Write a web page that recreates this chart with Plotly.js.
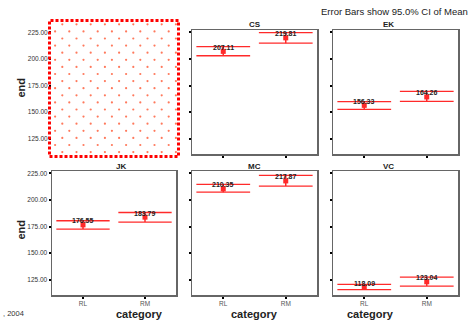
<!DOCTYPE html>
<html><head><meta charset="utf-8">
<script src="https://cdn.plot.ly/plotly-3.0.1.min.js"></script>
<style>html,body{margin:0;padding:0;background:#fff}#chart{width:475px;height:322px}</style>
</head><body><div id="chart"></div>
<script>
// ---- data ----
const groups = ['CS', 'EK', 'JK', 'MC', 'VC'];
const categories = ['RL', 'RM'];
const meanRL  = [207.11, 156.33, 176.55, 210.35, 118.09];
const meanRM  = [219.81, 164.26, 183.79, 217.87, 123.04];
const upperRL = [211.6, 159.9, 180.4, 214.7, 120.6];
const lowerRL = [203.0, 152.5, 172.6, 207.3, 115.6];
const upperRM = [224.8, 169.5, 188.2, 223.0, 127.5];
const lowerRM = [214.8, 160.1, 179.2, 213.0, 119.0];
const yTicks = [125, 150, 175, 200, 225];
const yTickText = ['125.00', '150.00', '175.00', '200.00', '225.00'];

// ---- layout helpers ----
const W = 475, H = 322;
const px = x => x / W;
const py = y => 1 - y / H;
const cols = [[52, 176], [192, 317], [333, 458]];
const rows = [[30, 154], [171, 295]];
const FONT = 'Liberation Sans, Arial, sans-serif';
const RED = '#ff2a2a';
const yRange = [110.6, 227.2];
const halfW = 0.43;

const slots = [[0, 0], [0, 1], [0, 2], [1, 0], [1, 1], [1, 2]];

const layout = {
  width: W, height: H,
  margin: {l: 0, r: 0, t: 0, b: 0},
  paper_bgcolor: '#fff', plot_bgcolor: '#fff',
  showlegend: false,
  font: {family: FONT, color: '#222'},
  annotations: [], shapes: [], images: []
};

slots.forEach((s, i) => {
  const [r, c] = s;
  const n = i === 0 ? '' : String(i + 1);
  const empty = i === 0;
  layout['xaxis' + n] = {
    domain: [px(cols[c][0]), px(cols[c][1])],
    anchor: 'y' + n,
    range: [-0.5, 1.5],
    tickvals: [0, 1], ticktext: categories,
    ticks: empty ? '' : 'outside', ticklen: 2, tickwidth: 2, tickcolor: '#000',
    showticklabels: r === 1,
    tickfont: {family: FONT, size: 6.5, color: '#555'},
    showgrid: false, zeroline: false,
    showline: !empty, linecolor: '#666', linewidth: 1.5, mirror: !empty,
    fixedrange: true
  };
  layout['yaxis' + n] = {
    domain: [py(rows[r][1]), py(rows[r][0])],
    anchor: 'x' + n,
    range: yRange,
    tickvals: yTicks, ticktext: yTickText,
    ticks: 'outside', ticklen: 2, tickwidth: 2, tickcolor: '#000',
    showticklabels: c === 0,
    tickfont: {family: FONT, size: 6.5, color: '#333'},
    showgrid: false, zeroline: false,
    showline: !empty, linecolor: '#666', linewidth: 1.5, mirror: !empty,
    fixedrange: true
  };
});

const traces = [];
traces.push({type: 'scatter', mode: 'markers', xaxis: 'x', yaxis: 'y',
  x: [null], y: [null], marker: {opacity: 0}, hoverinfo: 'skip'});

groups.forEach((g, gi) => {
  const n = String(gi + 2);
  const xa = 'x' + n, ya = 'y' + n;
  const means = [meanRL[gi], meanRM[gi]];
  const ups = [upperRL[gi], upperRM[gi]];
  const lows = [lowerRL[gi], lowerRM[gi]];
  [0, 1].forEach(ci => {
    [ups[ci], lows[ci]].forEach(v => {
      traces.push({
        type: 'scatter', mode: 'lines', xaxis: xa, yaxis: ya,
        x: [ci - halfW, ci + halfW], y: [v, v],
        line: {color: RED, width: 1.3}, hoverinfo: 'skip', cliponaxis: true
      });
    });
  });
  traces.push({
    type: 'scatter', mode: 'markers', xaxis: xa, yaxis: ya,
    x: [0, 1], y: means,
    marker: {symbol: 'square', size: 5, color: RED},
    error_y: {type: 'data', symmetric: false,
      array: [ups[0] - means[0], ups[1] - means[1]],
      arrayminus: [means[0] - lows[0], means[1] - lows[1]],
      width: 0, thickness: 1.5, color: RED},
    cliponaxis: false
  });
  [0, 1].forEach(ci => {
    layout.annotations.push({
      xref: xa, yref: ya, x: ci, y: means[ci],
      text: '<b>' + means[ci].toFixed(2) + '</b>',
      showarrow: false, yshift: 4, yanchor: 'middle',
      font: {family: FONT, size: 7, color: '#222'}
    });
  });
  const [r, c] = slots[gi + 1];
  layout.annotations.push({
    xref: 'paper', yref: 'paper',
    x: (px(cols[c][0]) + px(cols[c][1])) / 2, y: py(rows[r][0] - 5),
    text: '<b>' + g + '</b>', showarrow: false, yanchor: 'middle',
    font: {family: FONT, size: 8, color: '#222'}
  });
});

[[20.5, 88], [20.5, 230]].forEach(p => {
  layout.annotations.push({
    xref: 'paper', yref: 'paper', x: px(p[0]), y: py(p[1]),
    text: '<b>end</b>', textangle: -90, showarrow: false,
    xanchor: 'center', yanchor: 'middle',
    font: {family: FONT, size: 11, color: '#222'}
  });
});
cols.forEach(c => {
  layout.annotations.push({
    xref: 'paper', yref: 'paper', x: (px(c[0]) + px(c[1])) / 2, y: py(314),
    text: '<b>category</b>', showarrow: false, yanchor: 'middle',
    font: {family: FONT, size: 11, color: '#222'}
  });
});
layout.annotations.push({
  xref: 'paper', yref: 'paper', x: px(470), y: py(11.5),
  text: 'Error Bars show 95.0% CI of Mean', showarrow: false,
  xanchor: 'right', yanchor: 'middle',
  font: {family: FONT, size: 9.5, color: '#222'}
});
layout.annotations.push({
  xref: 'paper', yref: 'paper', x: px(1), y: py(313.5),
  text: ', 2004', showarrow: false, xanchor: 'left', yanchor: 'middle',
  font: {family: FONT, size: 7.5, color: '#333'}
});

(function () {
  const w = 132, h = 139;
  let circles = '';
  for (let row = 0; ; row++) {
    const y = 5.3 + row * 7.1;
    if (y > h - 3) break;
    const off = row % 2 === 0 ? 14.3 : 7.1;
    for (let x = off; x < w - 3; x += 14.2) {
      circles += '<circle cx="' + x.toFixed(1) + '" cy="' + y.toFixed(1) + '" r="1.1" fill="#ff6a4a" fill-opacity="0.9"/>';
    }
  }
  const svg = '<svg xmlns="http://www.w3.org/2000/svg" width="' + w + '" height="' + h + '" viewBox="0 0 ' + w + ' ' + h + '">' + circles + '</svg>';
  layout.images.push({
    source: 'data:image/svg+xml;charset=utf-8,' + encodeURIComponent(svg),
    xref: 'paper', yref: 'paper', x: px(48), y: py(19),
    sizex: w / W, sizey: h / H, xanchor: 'left', yanchor: 'top',
    sizing: 'stretch', layer: 'above'
  });
  layout.shapes.push({
    type: 'rect', xref: 'paper', yref: 'paper',
    x0: px(49.5), x1: px(178.5), y0: py(156.5), y1: py(20.5),
    line: {color: '#ff0000', width: 3, dash: '3px,2px'}, fillcolor: 'rgba(0,0,0,0)'
  });
})();

Plotly.newPlot('chart', traces, layout, {displayModeBar: false, staticPlot: true});
</script>
</body></html>
